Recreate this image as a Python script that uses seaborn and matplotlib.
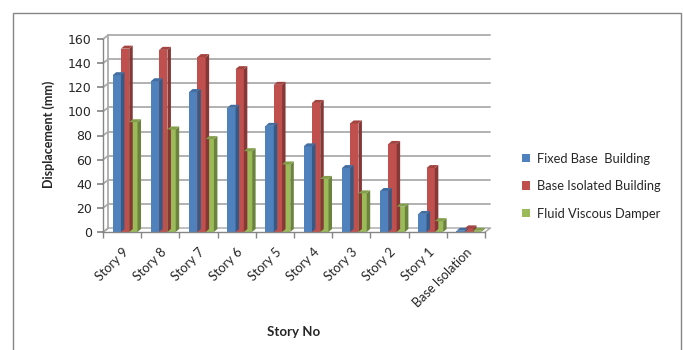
import matplotlib
matplotlib.use("Agg")
import matplotlib.pyplot as plt
import matplotlib.patches as mpatches
from matplotlib.colors import to_rgb
import numpy as np
import pandas as pd
import seaborn as sns

stories = ["Story 9", "Story 8", "Story 7", "Story 6", "Story 5",
           "Story 4", "Story 3", "Story 2", "Story 1", "Base Isolation"]
fixed_base = [130, 125, 116, 103, 88, 71, 53, 34, 15, 1]
base_isolated = [152, 151, 145, 135, 122, 107, 90, 73, 53, 3]
fluid_damper = [91, 85, 77, 67, 56, 44, 32, 21, 9, 1]
series_names = ["Fixed Base  Building", "Base Isolated Building", "Fluid Viscous Damper"]
colors = ["#4F81BD", "#C0504D", "#9BBB59"]

df = pd.DataFrame({
    "Story": stories * 3,
    "Displacement": fixed_base + base_isolated + fluid_damper,
    "Series": [series_names[0]] * 10 + [series_names[1]] * 10 + [series_names[2]] * 10,
})

sns.set_theme(style="white")
plt.rcParams["font.family"] = ["Lato", "DejaVu Sans"]

W, H = 683, 350
fig = plt.figure(figsize=(W / 100, H / 100), dpi=100)
# front floor edge spans x 103..485, y 232 (bottom) to 39 (value 160)
ax = fig.add_axes([103 / W, (H - 232) / H, 382 / W, 193 / H])

sns.barplot(data=df, x="Story", y="Displacement", hue="Series",
            palette=colors, width=0.65, ax=ax, legend=False,
            saturation=1, edgecolor="none", linewidth=0)

ax.set_ylim(0, 160)
ax.set_xlim(-0.5, 9.5)
ax.set_yticks(np.arange(0, 161, 20))

fig.canvas.draw()
inv = ax.transData.inverted()
p0 = inv.transform((0, 0))

def px_to_data(dx, dy):
    p = inv.transform((dx, dy))
    return p[0] - p0[0], p[1] - p0[1]

# bar depth and back-wall offset, in pixels
bdx, bdy = px_to_data(3.5, 3.0)
wdx, wdy = px_to_data(5.5, 4.0)
shift, _ = px_to_data(3.0, 0)

def shade(c, f):
    r, g, b = to_rgb(c)
    return (r * f, g * f, b * f)

for patch in list(ax.patches):
    patch.set_x(patch.get_x() + shift)
    x, y0 = patch.get_x(), patch.get_y()
    w, h = patch.get_width(), patch.get_height()
    fc = patch.get_facecolor()
    side = mpatches.Polygon([(x + w, y0), (x + w + bdx, y0 + bdy),
                             (x + w + bdx, y0 + h + bdy), (x + w, y0 + h)],
                            closed=True, facecolor=shade(fc, 0.7),
                            edgecolor="none", zorder=patch.get_zorder())
    top = mpatches.Polygon([(x, y0 + h), (x + bdx, y0 + h + bdy),
                            (x + w + bdx, y0 + h + bdy), (x + w, y0 + h)],
                           closed=True, facecolor=shade(fc, 0.85),
                           edgecolor="none", zorder=patch.get_zorder())
    ax.add_patch(side)
    ax.add_patch(top)

grid_kw = dict(color="#ABABAB", lw=1.3, zorder=0.5, clip_on=False)
# gridlines on the back wall
for v in np.arange(20, 161, 20):
    ax.plot([-0.5 + wdx, 9.5 + wdx], [v + wdy, v + wdy], **grid_kw)
ax.plot([-0.5 + wdx, -0.5 + wdx], [wdy, 160 + wdy], **grid_kw)
# floor edges
ax.plot([-0.5, -0.5 + wdx, 9.5 + wdx, 9.5], [0, wdy, wdy, 0],
        color="#A6A6A6", lw=1, zorder=0.5, clip_on=False)
for v in np.arange(0, 161, 20):
    ax.plot([-0.5, -0.5 + wdx], [v, v + wdy], **grid_kw)

for s in ["top", "right"]:
    ax.spines[s].set_visible(False)
for s in ["left", "bottom"]:
    ax.spines[s].set_color("#868686")
    ax.spines[s].set_linewidth(1)

ax.set_xticks(np.arange(10))
ax.set_xticklabels(stories, rotation=45, ha="right", rotation_mode="anchor", fontsize=9.2)
ax.set_xticks(np.arange(-0.5, 10, 1), minor=True)
ax.tick_params(axis="x", which="major", length=0, pad=10)
ax.tick_params(axis="x", which="minor", length=4, color="#868686", direction="out", bottom=True)
ax.tick_params(axis="y", length=4, color="#868686", direction="out", left=True, labelsize=9, pad=4)
for lab in ax.get_yticklabels():
    lab.set_fontfamily("DejaVu Sans")

ax.set_xlabel("")
ax.set_ylabel("")
fig.text(49 / W, 1 - 134 / H, "Displacement (mm)", rotation=90, ha="center",
         va="center", fontsize=9, fontweight="bold")
fig.text(294 / W, 1 - 332 / H, "Story No", ha="center", va="center",
         fontsize=9.5, fontweight="bold")

handles = [mpatches.Patch(facecolor=c, edgecolor="none") for c in colors]
fig.legend(handles, series_names, loc="center left",
           bbox_to_anchor=(516 / W, 1 - 186 / H), frameon=False,
           fontsize=9.3, handlelength=0.6, handleheight=0.6, handletextpad=0.5,
           labelspacing=1.2, borderpad=0)

# chart area border
fig.add_artist(mpatches.Rectangle((13 / W, -0.05), (681 - 13) / W, 1.05 - 13 / H,
                                  transform=fig.transFigure, fill=False,
                                  edgecolor="#868686", lw=1))

fig.savefig("out.png", dpi=100)
